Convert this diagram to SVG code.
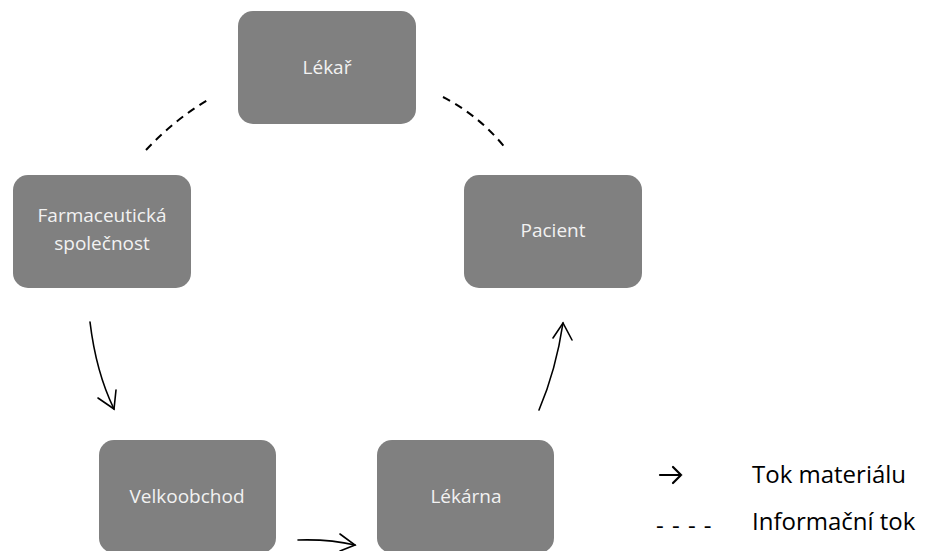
<svg xmlns="http://www.w3.org/2000/svg" width="937" height="551" viewBox="0 0 937 551">
<style>
.box{fill:#808080;}
.lbl{font-family:"Open Sans","Noto Sans",sans-serif;font-size:19px;fill:#f2f2f2;text-anchor:middle;}
.flow{fill:none;stroke:#000;stroke-width:1.6;stroke-linecap:round;}
.info{fill:none;stroke:#000;stroke-width:2;stroke-dasharray:8,6;}
.leg{font-family:"Open Sans","Noto Sans",sans-serif;font-size:24px;fill:#000;}
</style>
<rect width="937" height="551" fill="#fff"/>
<g id="lekar"><rect class="box" x="238" y="11" width="178" height="113" rx="15"/><text class="lbl" x="327" y="74">Lékař</text></g>
<g id="farmaceuticka"><rect class="box" x="13" y="175" width="178" height="113" rx="15"/><text class="lbl" x="102" y="222">Farmaceutická</text><text class="lbl" x="102" y="250">společnost</text></g>
<g id="pacient"><rect class="box" x="464" y="175" width="178" height="113" rx="15"/><text class="lbl" x="553" y="237">Pacient</text></g>
<g id="velkoobchod"><rect class="box" x="99" y="440" width="177" height="113" rx="15"/><text class="lbl" x="187" y="503">Velkoobchod</text></g>
<g id="lekarna"><rect class="box" x="377" y="440" width="177" height="113" rx="15"/><text class="lbl" x="466" y="503">Lékárna</text></g>
<g id="connectors">
<path class="info" d="M146,150 Q175,119 211,98"/>
<path class="info" d="M443,97 Q480,116 507,150"/>
<path class="flow" d="M90,322 Q96,372 114,409"/>
<path class="flow" d="M98,398 L114,409 L116,390"/>
<path class="flow" d="M298,540 Q330,539 355,545"/>
<path class="flow" d="M340,534 L355,545 L340,551"/>
<path class="flow" d="M539,410 Q556,370 563,323"/>
<path class="flow" d="M553,338 L563,323 L572,340"/>
</g>
<g id="legend">
<path class="flow" style="stroke-width:2.2" d="M660,475 L681,475 M673,467 L681,475 L673,483"/>
<text class="leg" x="752" y="483">Tok materiálu</text>
<text class="leg" x="656" y="534" letter-spacing="1">- - - -</text>
<text class="leg" x="752" y="530">Informační tok</text>
</g>
</svg>
